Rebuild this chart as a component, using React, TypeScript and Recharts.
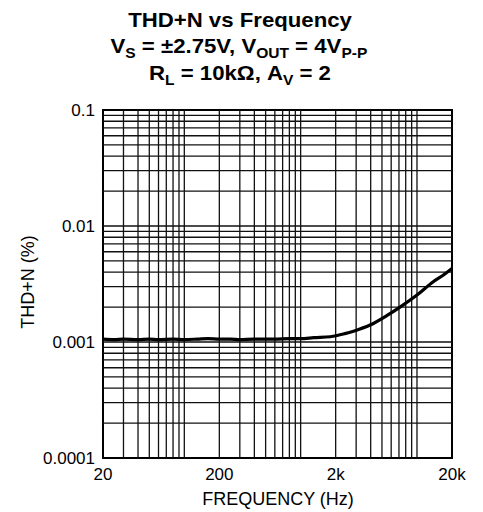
import React from "react";
import { LineChart, Line, XAxis, YAxis, ReferenceLine, ReferenceArea } from "recharts";

const freqHz = [20, 25, 30, 40, 50, 60, 80, 100, 130, 160, 200, 250, 300, 400, 500, 600, 800, 1000, 1300, 1800, 2400, 2850, 3950, 5500, 7200, 10000, 13800, 17000, 20000];
const thdPct = [0.00106, 0.00105, 0.00106, 0.00105, 0.00106, 0.00105, 0.00106, 0.00105, 0.00106, 0.00107, 0.00106, 0.00106, 0.00105, 0.00106, 0.00106, 0.00106, 0.00107, 0.00107, 0.00109, 0.00111, 0.00118, 0.00124, 0.0014, 0.00169, 0.00201, 0.00254, 0.00331, 0.0038, 0.0043];

const xTicks = [20, 200, 2000, 20000];
const xTickLabels = ["20", "200", "2k", "20k"];
const yTicks = [0.0001, 0.001, 0.01, 0.1];
const yTickLabels = ["0.0001", "0.001", "0.01", "0.1"];

const xGrid = [30, 40, 50, 60, 70, 80, 90, 100, 200, 300, 400, 500, 600, 700, 800, 900, 1000, 2000, 3000, 4000, 5000, 6000, 7000, 8000, 9000, 10000];
const yGrid = [0.0002, 0.0003, 0.0004, 0.0005, 0.0006, 0.0007, 0.0008, 0.0009, 0.001, 0.002, 0.003, 0.004, 0.005, 0.006, 0.007, 0.008, 0.009, 0.01, 0.02, 0.03, 0.04, 0.05, 0.06, 0.07, 0.08, 0.09];

const data = freqHz.map((f, i) => ({ f, v: thdPct[i] }));

const FONT = "'Liberation Sans', Arial, Helvetica, sans-serif";

export default function App() {
  return (
    <div style={{ position: "absolute", left: 0, top: 0, width: 483, height: 512, background: "#fff" }}>
      <svg width={483} height={512} style={{ position: "absolute", left: 0, top: 0 }}>
        <g transform="translate(240,0) scale(1.11,1)" fontFamily={FONT} fontWeight="bold" fontSize={20} fill="#000" textAnchor="middle">
          <text x={0} y={27}>THD+N vs Frequency</text>
          <text x={-1} y={53}>
            <tspan>V</tspan>
            <tspan fontSize={14} dy={5}>S</tspan>
            <tspan dy={-5}> = ±2.75V, V</tspan>
            <tspan fontSize={14} dy={5}>OUT</tspan>
            <tspan dy={-5}> = 4V</tspan>
            <tspan fontSize={14} dy={5}>P-P</tspan>
          </text>
          <text x={0} y={80}>
            <tspan>R</tspan>
            <tspan fontSize={14} dy={5}>L</tspan>
            <tspan dy={-5}> = 10kΩ, A</tspan>
            <tspan fontSize={14} dy={5}>V</tspan>
            <tspan dy={-5}> = 2</tspan>
          </text>
        </g>
        <text x={278} y={505} fontFamily={FONT} fontSize={18} textAnchor="middle" fill="#000">FREQUENCY (Hz)</text>
        <text x={0} y={0} transform="translate(34,282) rotate(-90)" fontFamily={FONT} fontSize={18} textAnchor="middle" fill="#000">THD+N (%)</text>
      </svg>
      <div style={{ position: "absolute", left: 0, top: 0 }}>
        <LineChart width={483} height={512} data={data} margin={{ top: 110, right: 31, bottom: 24, left: 0 }}>
          <XAxis
            dataKey="f"
            type="number"
            scale="log"
            domain={[20, 20000]}
            ticks={xTicks}
            tickFormatter={(v: number) => xTickLabels[xTicks.indexOf(v)] ?? String(v)}
            axisLine={false}
            tickLine={false}
            tickSize={6}
            tickMargin={4}
            height={30}
            allowDataOverflow
            tick={{ fill: "#000", fontSize: 17, fontFamily: FONT }}
          />
          <YAxis
            type="number"
            scale="log"
            domain={[0.0001, 0.1]}
            ticks={yTicks}
            tickFormatter={(v: number) => yTickLabels[yTicks.indexOf(v)] ?? String(v)}
            axisLine={false}
            tickLine={false}
            tickSize={6}
            width={103}
            allowDataOverflow
            tick={{ fill: "#000", fontSize: 17, fontFamily: FONT }}
          />
          {xGrid.map((x) => (
            <ReferenceLine key={"x" + x} x={x} stroke="#111" strokeWidth={1.3} />
          ))}
          {yGrid.map((y) => (
            <ReferenceLine key={"y" + y} y={y} stroke="#111" strokeWidth={1.3} />
          ))}
          <ReferenceArea x1={20} x2={20000} y1={0.0001} y2={0.1} fill="none" stroke="#000" strokeWidth={2} />
          <Line dataKey="v" type="monotone" stroke="#000" strokeWidth={3.2} dot={false} isAnimationActive={false} />
        </LineChart>
      </div>
    </div>
  );
}
